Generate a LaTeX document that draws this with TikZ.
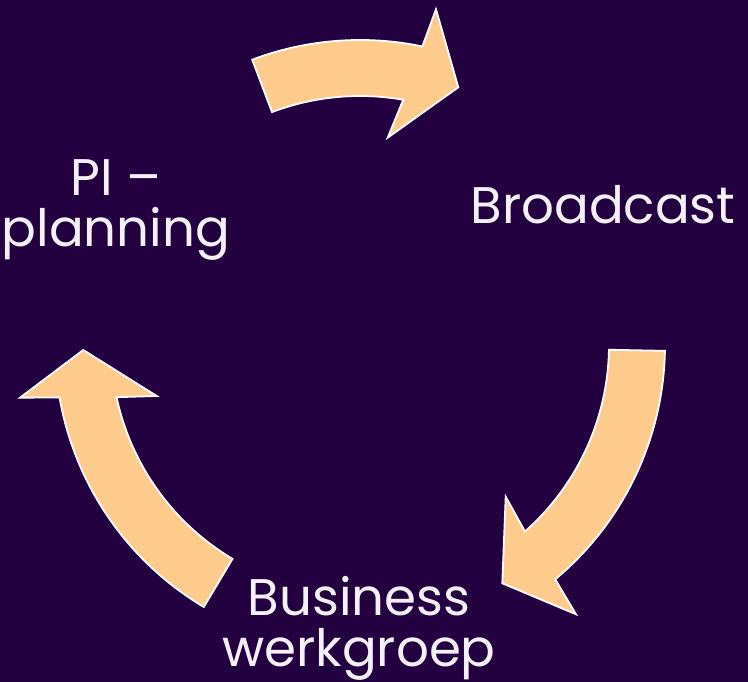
\documentclass[tikz,border=0pt]{standalone}
\usepackage{fontspec}
\setmainfont{Poppins}
\usetikzlibrary{calc}
\definecolor{bgcol}{HTML}{23003F}
\definecolor{peach}{HTML}{FFCB8C}
\definecolor{labeltext}{HTML}{F3F1F6}
\begin{document}
\begin{tikzpicture}[x=1pt,y=1pt,
  blockarrow/.style={fill=peach, draw=white, line width=1.8pt, line join=miter},
  lbl/.style={text=labeltext, font=\fontsize{51.5}{51}\selectfont, align=center, inner sep=0pt}]
\fill[bgcol] (0,0) rectangle (748,682);
\useasboundingbox (0,0) rectangle (748,682);
\coordinate (C) at (360,337);
% top arrow
\draw[blockarrow] ($(C)+(110.7:305)$) arc[start angle=110.7, end angle=78.2, radius=305]
  -- (436,672.7) -- (458.3,594.7) -- (387.7,544.3)
  -- ($(C)+(80:249)$) arc[start angle=80, end angle=110.7, radius=249] -- cycle;
% right arrow
\draw[blockarrow] ($(C)+(-1.1:305)$) arc[start angle=-1.1, end angle=-50.2, radius=305]
  -- (576,67.7) -- (502.3,98.7) -- (505.7,185.3)
  -- ($(C)+(-48.5:249)$) arc[start angle=-48.5, end angle=-1.1, radius=249] -- cycle;
% left arrow
\draw[blockarrow] ($(C)+(239.2:305)$) arc[start angle=239.2, end angle=189.9, radius=305]
  -- (20,284.3) -- (83.3,332) -- (156.7,286)
  -- ($(C)+(192.1:249)$) arc[start angle=192.1, end angle=239.2, radius=249] -- cycle;
% labels
\node[lbl] (pi) at (116,472) {PI –\\planning};
\node[lbl] (bc) at (603,477.5) {Broadcast};
\node[lbl] (bw) at (359,54) {Business\\werkgroep};
\end{tikzpicture}
\end{document}
